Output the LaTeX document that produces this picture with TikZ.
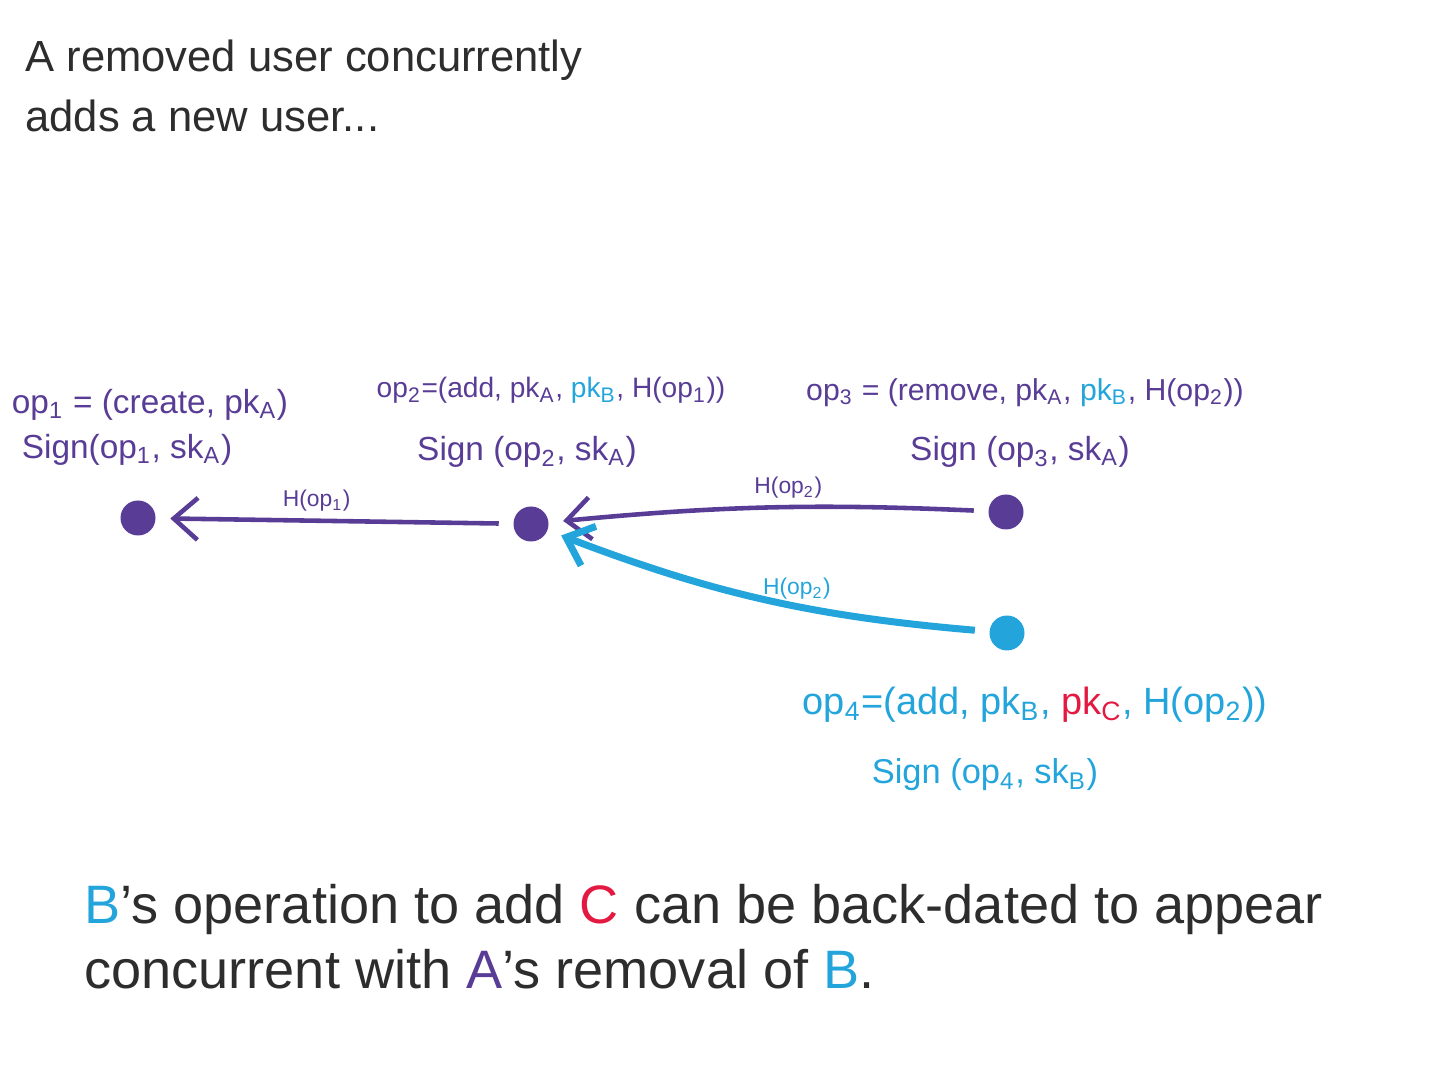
\documentclass[tikz,border=0pt]{standalone}
\usepackage{fontspec}
\setmainfont{Liberation Sans}
\usepackage{xcolor}
\usetikzlibrary{arrows.meta,positioning}

\definecolor{opPurple}{RGB}{88,60,150}
\definecolor{opCyan}{RGB}{35,165,220}
\definecolor{opRed}{RGB}{228,25,65}
\definecolor{inkGray}{RGB}{45,45,45}

\newcommand{\sub}[1]{\textsubscript{#1}}

\begin{document}
\begin{tikzpicture}[
  >={Straight Barb[length=2.4mm, width=4.2mm]},
  font=\fontsize{9.5}{11}\selectfont,
  opdot/.style={circle, fill=#1, inner sep=0pt, minimum size=3.5mm},
  oplbl/.style={text=#1, inner sep=1pt},
  hashlbl/.style={text=#1, font=\fontsize{6.5}{7}\selectfont, inner sep=1pt},
  hashedge/.style={draw=#1, line width=1.3pt, shorten <=4pt, shorten >=4pt}
]
\useasboundingbox (0,0) rectangle (14.4,-10.8);

% ----- judul -----
\node[text=inkGray, font=\fontsize{12.4}{17}\selectfont, align=left,
      anchor=north west] (title) at (0.13,-0.28)
  {A removed user concurrently\\adds a new user...};

% ----- operasi (titik) -----
\node[opdot=opPurple] (op1) at (1.38,-5.18) {};
\node[opdot=opPurple] (op2) at (5.31,-5.24) {};
\node[opdot=opPurple] (op3) at (10.06,-5.12) {};
\node[opdot=opCyan]   (op4) at (10.07,-6.33) {};

% ----- isi operasi -----
\node[oplbl=opPurple] (op1def) at (1.50,-4.05)
  {op\sub{1} = (create, pk\sub{A})};
\node[oplbl=opPurple] (op1sig) at (1.27,-4.50)
  {Sign(op\sub{1}, sk\sub{A})};

\node[oplbl=opPurple, font=\fontsize{8}{10}\selectfont] (op2def) at (5.51,-3.90)
  {op\sub{2}=(add, pk\sub{A}, \textcolor{opCyan}{pk\sub{B}}, H(op\sub{1}))};
\node[oplbl=opPurple] (op2sig) at (5.27,-4.52)
  {Sign (op\sub{2}, sk\sub{A})};

\node[oplbl=opPurple, font=\fontsize{8.6}{10}\selectfont] (op3def) at (10.25,-3.93)
  {op\sub{3} = (remove, pk\sub{A}, \textcolor{opCyan}{pk\sub{B}}, H(op\sub{2}))};
\node[oplbl=opPurple] (op3sig) at (10.20,-4.52)
  {Sign (op\sub{3}, sk\sub{A})};

\node[oplbl=opCyan, font=\fontsize{10.8}{12}\selectfont] (op4def) at (10.35,-7.05)
  {op\sub{4}=(add, pk\sub{B}, \textcolor{opRed}{pk\sub{C}}, H(op\sub{2}))};
\node[oplbl=opCyan, font=\fontsize{9.8}{11}\selectfont] (op4sig) at (9.85,-7.75)
  {Sign (op\sub{4}, sk\sub{B})};

% ----- tautan hash -----
\draw[->, hashedge=opPurple] (op2) -- node[hashlbl=opPurple, above=1pt, pos=0.55]
  {H(op\sub{1})} (op1);
\draw[->, hashedge=opPurple] (op3) to[bend right=4]
  node[hashlbl=opPurple, above=1pt, pos=0.45] {H(op\sub{2})} (op2);
\draw[->, hashedge=opCyan, line width=2pt] (op4) to[bend left=8]
  node[hashlbl=opCyan, above=0pt, pos=0.42] {H(op\sub{2})} (op2);

% ----- catatan bawah -----
\node[text=inkGray, font=\fontsize{15.4}{18.5}\selectfont, align=left,
      anchor=north west] (note) at (0.72,-8.72)
  {\textcolor{opCyan}{B}'s operation to add \textcolor{opRed}{C} can be back-dated to appear\\
   concurrent with \textcolor{opPurple}{A}'s removal of \textcolor{opCyan}{B}.};
\end{tikzpicture}
\end{document}
